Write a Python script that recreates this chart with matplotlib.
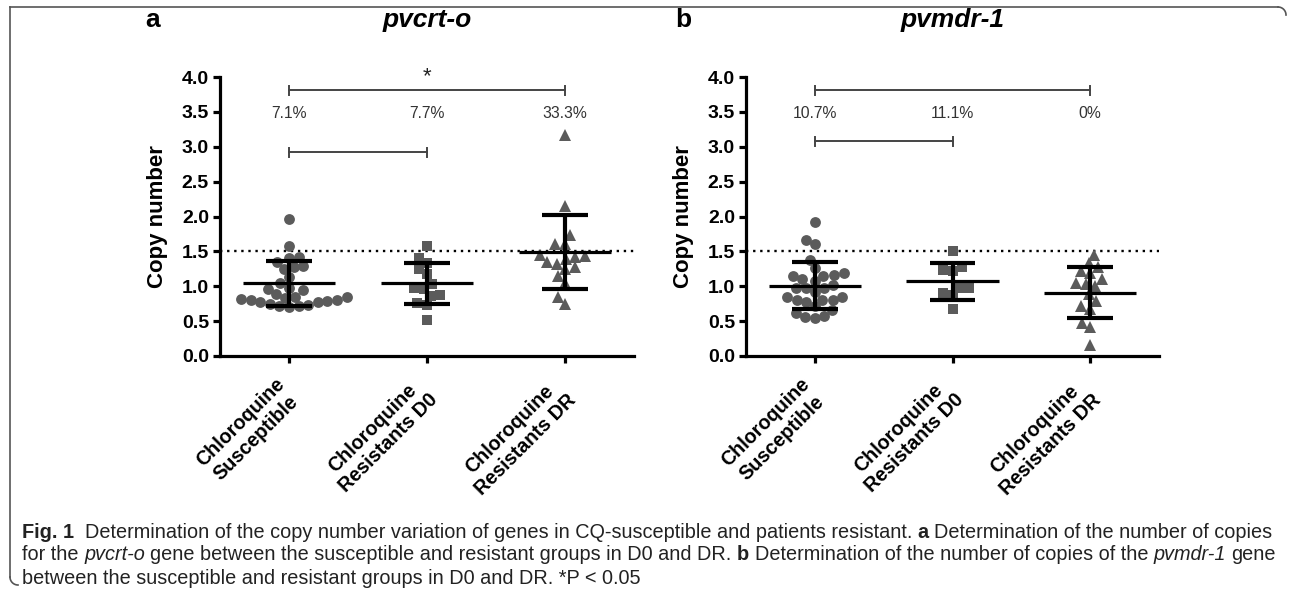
import numpy as np
import matplotlib
matplotlib.use("Agg")
import matplotlib.pyplot as plt
from matplotlib import font_manager
from matplotlib.lines import Line2D

# ---------------- data ----------------
groups = ["Chloroquine\nSusceptible", "Chloroquine\nResistants D0", "Chloroquine\nResistants DR"]
yticks = [0.0, 0.5, 1.0, 1.5, 2.0, 2.5, 3.0, 3.5, 4.0]

pvcrt_cs = [1.96, 1.57, 1.42, 1.40, 1.35, 1.29, 1.27, 1.25, 1.13, 1.04, 0.98, 0.96, 0.94, 0.89,
            0.85, 0.84, 0.82, 0.81, 0.80, 0.79, 0.78, 0.77, 0.75, 0.73, 0.72, 0.70, 0.71, 0.83]
pvcrt_d0 = [1.57, 1.41, 1.25, 1.34, 1.18, 0.98, 0.96, 1.03, 0.87, 0.86, 0.76, 0.73, 0.52]
pvcrt_dr = [3.17, 2.15, 1.73, 1.61, 1.61, 1.45, 1.42, 1.35, 1.43, 1.39, 1.28, 1.32, 1.25,
            1.15, 1.05, 0.85, 0.75]
pvcrt_mean = [1.04, 1.04, 1.49]
pvcrt_sd = [0.32, 0.30, 0.53]
pvcrt_pct = ["7.1%", "7.7%", "33.3%"]

pvmdr_cs = [1.92, 1.66, 1.61, 1.38, 1.19, 1.26, 1.16, 1.15, 1.08, 0.97, 0.97, 0.97, 1.02, 1.10,
            1.15, 0.92, 0.85, 0.80, 0.78, 0.80, 0.80, 0.85, 0.66, 0.58, 0.54, 0.56, 0.61, 0.71]
pvmdr_d0 = [1.50, 1.27, 1.22, 1.24, 0.97, 0.98, 0.91, 0.87, 0.67]
pvmdr_dr = [1.45, 1.33, 1.28, 1.22, 1.19, 1.10, 1.04, 1.00, 1.03, 0.89, 0.79, 0.71, 0.68,
            0.48, 0.41, 0.16]
pvmdr_mean = [1.01, 1.07, 0.91]
pvmdr_sd = [0.34, 0.26, 0.37]
pvmdr_pct = ["10.7%", "11.1%", "0%"]

threshold = 1.5

# ---------------- style ----------------
W, H, DPI = 1292, 591, 100
avail = {f.name for f in font_manager.fontManager.ttflist}
FONT = "Liberation Sans" if "Liberation Sans" in avail else "DejaVu Sans"
CAPFONT = "Liberation Sans Narrow" if "Liberation Sans Narrow" in avail else FONT
plt.rcParams["font.family"] = [FONT, "DejaVu Sans"]

MARK_COL = "#5b5b5b"
markers = ["o", "s", "^"]

fig = plt.figure(figsize=(W / DPI, H / DPI), dpi=DPI)


def px(x0, y0, x1, y1):
    return [x0 / W, 1 - y1 / H, (x1 - x0) / W, (y1 - y0) / H]


def swarm_offsets(vals, ppu_y, ppu_x, diam):
    vals = np.asarray(vals, float)
    order = np.argsort(vals)
    placed = []
    offs = np.zeros(len(vals))
    for i in order:
        y = vals[i] * ppu_y
        cands = [0.0]
        for (px_, py_) in placed:
            dy = abs(y - py_)
            if dy < diam:
                dx = np.sqrt(diam ** 2 - dy ** 2)
                cands += [px_ + dx, px_ - dx]
        cands = sorted(cands, key=lambda c: (abs(c), c))
        for c in cands:
            ok = all((c - p0) ** 2 + (y - p1) ** 2 >= diam ** 2 - 1e-6 for p0, p1 in placed)
            if ok:
                break
        placed.append((c, y))
        offs[i] = c / ppu_x
    return offs


def panel(rect, data, means, sds, pcts, title, letter, letter_x, br_low, star):
    ax = fig.add_axes(rect)
    ax.set_xlim(-0.5, 2.5)
    ax.set_ylim(0, 4)
    ppu_y = rect[3] * H / 4.0
    ppu_x = rect[2] * W / 3.0
    for i, vals in enumerate(data):
        offs = swarm_offsets(vals, ppu_y, ppu_x, 9.8)
        ms = {"o": 7.8, "s": 7.2, "^": 8.0}[markers[i]]
        ax.plot(i + offs, vals, ls="none", marker=markers[i], ms=ms, mfc=MARK_COL,
                mec=MARK_COL, mew=0, zorder=2)
        ax.hlines(means[i], i - 0.335, i + 0.335, color="black", lw=2.3, zorder=3)
        ax.vlines(i, means[i] - sds[i], means[i] + sds[i], color="black", lw=3.0, zorder=3)
        ax.hlines([means[i] - sds[i], means[i] + sds[i]], i - 0.165, i + 0.165,
                  color="black", lw=3.0, zorder=3)
        ax.text(i, 3.48, pcts[i], ha="center", va="center", fontsize=11.3, color="#333333")
    ax.axhline(threshold, color="black", lw=1.7, ls=(0, (1, 2)), zorder=1)

    def bracket(x0, x1, y):
        ax.plot([x0, x1], [y, y], color="#444444", lw=1.4, clip_on=False)
        for xx in (x0, x1):
            ax.plot([xx, xx], [y - 0.065, y + 0.065], color="#444444", lw=1.4, clip_on=False)

    bracket(0, 2, 3.81)
    bracket(0, 1, br_low)
    if star:
        ax.text(1, 3.85, "*", ha="center", va="bottom", fontsize=16, color="#222222")

    for s in ("top", "right"):
        ax.spines[s].set_visible(False)
    for s in ("left", "bottom"):
        ax.spines[s].set_linewidth(2.3)
    ax.set_yticks(yticks)
    ax.set_yticklabels([f"{v:.1f}" for v in yticks], fontsize=14, fontweight="bold")
    ax.set_xticks(range(3))
    ax.set_xticklabels(groups, rotation=45, ha="right", va="center", rotation_mode="anchor",
                       multialignment="center", fontsize=14.2, fontweight="bold")
    ax.tick_params(axis="both", width=2.3, length=5)
    ax.tick_params(axis="x", pad=19)
    ax.tick_params(axis="y", pad=3)
    ax.set_ylabel("Copy number", fontsize=16, fontweight="bold", labelpad=10)
    cx = rect[0] + rect[2] / 2
    fig.text(cx, 1 - 20 / H, title, fontsize=19, fontweight="bold", style="italic",
             ha="center", va="center")
    fig.text(letter_x / W, 1 - 20 / H, letter, fontsize=19, fontweight="bold",
             ha="center", va="center")
    return ax


panel(px(220, 77, 634, 356), [pvcrt_cs, pvcrt_d0, pvcrt_dr], pvcrt_mean, pvcrt_sd,
      pvcrt_pct, "pvcrt-o", "a", 153, 2.92, True)
panel(px(746, 77, 1159, 356), [pvmdr_cs, pvmdr_d0, pvmdr_dr], pvmdr_mean, pvmdr_sd,
      pvmdr_pct, "pvmdr-1", "b", 683, 3.08, False)

# ---------------- frame ----------------
fc = "#555555"
fig.add_artist(Line2D([10 / W, 1278 / W], [1 - 7 / H, 1 - 7 / H], color=fc, lw=1.2))
t = np.linspace(0, np.pi / 2, 20)
r = 8
fig.add_artist(Line2D((1278 + r * np.sin(t)) / W, 1 - (7 + r - r * np.cos(t)) / H, color=fc, lw=1.2))
fig.add_artist(Line2D([10 / W, 10 / W], [1 - 7 / H, 1 - 577 / H], color=fc, lw=1.2))
fig.add_artist(Line2D((10 + r - r * np.cos(t)) / W, 1 - (577 + r * np.sin(t)) / H, color=fc, lw=1.2))

# ---------------- caption ----------------
cap_lines = [
    [("Fig. 1", "bold", "normal"),
     ("  Determination of the copy number variation of genes in CQ-susceptible and patients resistant. ", "normal", "normal"),
     ("a", "bold", "normal"), (" Determination of the number of copies", "normal", "normal")],
    [("for the ", "normal", "normal"), ("pvcrt-o", "normal", "italic"),
     (" gene between the susceptible and resistant groups in D0 and DR. ", "normal", "normal"),
     ("b", "bold", "normal"), (" Determination of the number of copies of the ", "normal", "normal"),
     ("pvmdr-1", "normal", "italic"), (" gene", "normal", "normal")],
    [("between the susceptible and resistant groups in D0 and DR. *P < 0.05", "normal", "normal")],
]
cap_y = [532, 555, 578]
renderer = fig.canvas.get_renderer()


def text_w(s, size, weight, style):
    tt = fig.text(0, 0, s, fontsize=size, fontweight=weight, style=style, family=CAPFONT)
    w = tt.get_window_extent(renderer).width
    tt.remove()
    return w


def piece_w(s, size, weight, style):
    core = s.strip(" ")
    lead = len(s) - len(s.lstrip(" "))
    trail = len(s) - len(s.rstrip(" "))
    sp = text_w("x x", size, weight, style) - text_w("xx", size, weight, style)
    return lead * sp, (text_w(core, size, weight, style) if core else 0), trail * sp, core


base = 12.0
tot = sum(sum(piece_w(s, base, w, st)[:3]) for s, w, st in cap_lines[0])
size = base * (1249 / tot)

for line, yy in zip(cap_lines, cap_y):
    x = 22.0
    for s, w, st in line:
        lead, cw, trail, core = piece_w(s, size, w, st)
        x += lead
        if core:
            fig.text(x / W, 1 - yy / H, core, fontsize=size, fontweight=w, style=st,
                     family=CAPFONT, ha="left", va="center", color="#222222")
        x += cw + trail

fig.savefig("out.png", dpi=DPI)
